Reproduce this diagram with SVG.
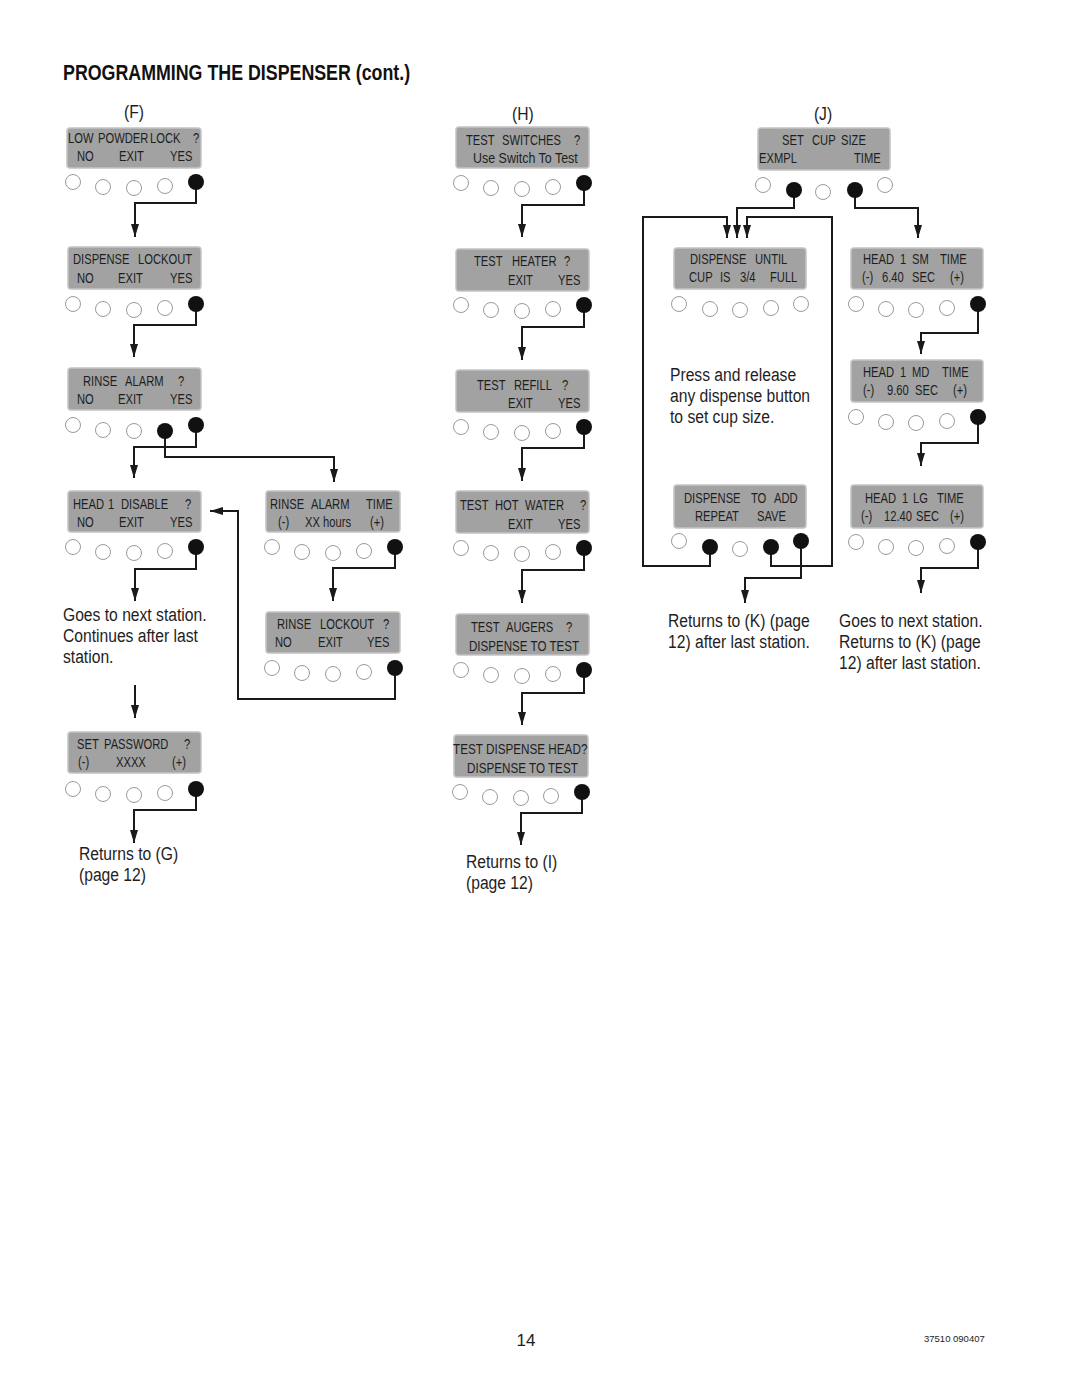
<svg xmlns="http://www.w3.org/2000/svg" width="1080" height="1397" viewBox="0 0 1080 1397">
<style>
.bg{fill:#fff}
.lcd{fill:#a2a2a2;stroke:#c4c4c4;stroke-width:1.5}
.lt{font-family:"Liberation Sans",Arial,sans-serif;font-size:14px;fill:#1e1e1e;transform:scale(0.8,1);transform-origin:0 0}
.bt{font-family:"Liberation Sans",Arial,sans-serif;font-size:18px;fill:#1e1e1e;transform:scale(0.87,1);transform-origin:0 0}
.ttl{font-family:"Liberation Sans",Arial,sans-serif;font-size:22px;font-weight:bold;fill:#111;transform:scale(0.81,1);transform-origin:0 0}
.ob{fill:#fff;stroke:#9a9a9a;stroke-width:1}
.fb{fill:#111}
.ca{fill:none;stroke:#1a1a1a;stroke-width:2;marker-end:url(#ah)}
</style>
<defs>
<marker id="ah" markerUnits="userSpaceOnUse" markerWidth="14" markerHeight="8" refX="13" refY="4" orient="auto">
<path d="M0,0 L13,4 L0,8 z" fill="#1a1a1a"/>
</marker>
</defs>
<rect class="bg" x="0" y="0" width="1080" height="1397"/>
<text class="ttl" x="77.8" y="80">PROGRAMMING THE DISPENSER (cont.)</text>
<text class="bt" x="154" y="118" text-anchor="middle">(F)</text>
<text class="bt" x="601.1" y="120" text-anchor="middle">(H)</text>
<text class="bt" x="946" y="120" text-anchor="middle">(J)</text>

<g id="connectors">
<polyline class="ca" points="196,182 196,203 135,203 135,237"/>
<polyline class="ca" points="196,304 196,325 134,325 134,357"/>
<polyline class="ca" points="196,425 196,447 134,447 134,478"/>
<polyline class="ca" points="165,431 165,457 334,457 334,482"/>
<polyline class="ca" points="196,547 196,569 135,569 135,601"/>
<polyline class="ca" points="395,547 395,568 333,568 333,601"/>
<polyline class="ca" points="395,668 395,699 238,699 238,511 210,511"/>
<polyline class="ca" points="135,685 135,718"/>
<polyline class="ca" points="196,789 196,810 134,810 134,843"/>

<polyline class="ca" points="584,183 584,205 522,205 522,237"/>
<polyline class="ca" points="584,305 584,327 522,327 522,360"/>
<polyline class="ca" points="584,427 584,448 522,448 522,481"/>
<polyline class="ca" points="584,548 584,570 522,570 522,603"/>
<polyline class="ca" points="584,670 584,693 522,693 522,725"/>
<polyline class="ca" points="582,792 582,813 521,813 521,845"/>

<polyline class="ca" points="794,190 794,208 737,208 737,238"/>
<polyline class="ca" points="855,190 855,208 918,208 918,238"/>
<polyline class="ca" points="710,547 710,566 643,566 643,217 727,217 727,238"/>
<polyline class="ca" points="771,547 771,566 832,566 832,217 747,217 747,238"/>
<polyline class="ca" points="801,541 801,578 745,578 745,603"/>
<polyline class="ca" points="978,304 978,333 921,333 921,354"/>
<polyline class="ca" points="978,417 978,443 921,443 921,466"/>
<polyline class="ca" points="978,542 978,568 921,568 921,593"/>
</g>

<!-- Column F -->
<g id="low-powder-lock">
<rect class="lcd" x="67" y="128" width="134" height="40" rx="3"/>
<text class="lt" y="143"><tspan x="85">LOW</tspan><tspan x="122.5">POWDER</tspan><tspan x="187.5">LOCK</tspan><tspan x="241.25">?</tspan></text>
<text class="lt" y="161"><tspan x="96.25">NO</tspan><tspan x="148.75">EXIT</tspan><tspan x="212.5">YES</tspan></text>
<circle class="ob" cx="73" cy="182" r="7.5"/><circle class="ob" cx="103" cy="187" r="7.5"/><circle class="ob" cx="134" cy="188" r="7.5"/><circle class="ob" cx="165" cy="186" r="7.5"/><circle class="fb" cx="196" cy="182" r="8"/>
</g>
<g id="dispense-lockout">
<rect class="lcd" x="68" y="247" width="133" height="42" rx="3"/>
<text class="lt" y="264"><tspan x="91.25">DISPENSE</tspan><tspan x="172.5">LOCKOUT</tspan></text>
<text class="lt" y="283"><tspan x="96.25">NO</tspan><tspan x="147.5">EXIT</tspan><tspan x="212.5">YES</tspan></text>
<circle class="ob" cx="73" cy="304" r="7.5"/><circle class="ob" cx="103" cy="309" r="7.5"/><circle class="ob" cx="134" cy="310" r="7.5"/><circle class="ob" cx="165" cy="308" r="7.5"/><circle class="fb" cx="196" cy="304" r="8"/>
</g>
<g id="rinse-alarm">
<rect class="lcd" x="68" y="368" width="133" height="42" rx="3"/>
<text class="lt" y="386"><tspan x="103.75">RINSE</tspan><tspan x="156.25">ALARM</tspan><tspan x="222.5">?</tspan></text>
<text class="lt" y="404"><tspan x="96.25">NO</tspan><tspan x="147.5">EXIT</tspan><tspan x="212.5">YES</tspan></text>
<circle class="ob" cx="73" cy="425" r="7.5"/><circle class="ob" cx="103" cy="430" r="7.5"/><circle class="ob" cx="134" cy="431" r="7.5"/><circle class="fb" cx="165" cy="431" r="8"/><circle class="fb" cx="196" cy="425" r="8"/>
</g>
<g id="head1-disable">
<rect class="lcd" x="68" y="491" width="133" height="41" rx="3"/>
<text class="lt" y="509"><tspan x="91.25">HEAD</tspan><tspan x="135">1</tspan><tspan x="151.25">DISABLE</tspan><tspan x="231.25">?</tspan></text>
<text class="lt" y="527"><tspan x="96.25">NO</tspan><tspan x="148.75">EXIT</tspan><tspan x="212.5">YES</tspan></text>
<circle class="ob" cx="73" cy="547" r="7.5"/><circle class="ob" cx="103" cy="552" r="7.5"/><circle class="ob" cx="134" cy="553" r="7.5"/><circle class="ob" cx="165" cy="551" r="7.5"/><circle class="fb" cx="196" cy="547" r="8"/>
</g>
<g id="rinse-alarm-time">
<rect class="lcd" x="266" y="491" width="134" height="41" rx="3"/>
<text class="lt" y="509"><tspan x="337.5">RINSE</tspan><tspan x="388.75">ALARM</tspan><tspan x="457.5">TIME</tspan></text>
<text class="lt" y="527"><tspan x="347.5">(-)</tspan><tspan x="381.25">XX hours</tspan><tspan x="462.5">(+)</tspan></text>
<circle class="ob" cx="272" cy="547" r="7.5"/><circle class="ob" cx="302" cy="552" r="7.5"/><circle class="ob" cx="333" cy="553" r="7.5"/><circle class="ob" cx="364" cy="551" r="7.5"/><circle class="fb" cx="395" cy="547" r="8"/>
</g>
<g id="rinse-lockout">
<rect class="lcd" x="266" y="612" width="134" height="41" rx="3"/>
<text class="lt" y="629"><tspan x="346.25">RINSE</tspan><tspan x="400">LOCKOUT</tspan><tspan x="478.75">?</tspan></text>
<text class="lt" y="647"><tspan x="343.75">NO</tspan><tspan x="397.5">EXIT</tspan><tspan x="458.75">YES</tspan></text>
<circle class="ob" cx="272" cy="668" r="7.5"/><circle class="ob" cx="302" cy="673" r="7.5"/><circle class="ob" cx="333" cy="674" r="7.5"/><circle class="ob" cx="364" cy="672" r="7.5"/><circle class="fb" cx="395" cy="668" r="8"/>
</g>
<g id="note-f1">
<text class="bt" x="72.4" y="621">Goes to next station.</text>
<text class="bt" x="72.4" y="642">Continues after last</text>
<text class="bt" x="72.4" y="663">station.</text>
</g>
<g id="set-password">
<rect class="lcd" x="68" y="732" width="133" height="41" rx="3"/>
<text class="lt" y="749"><tspan x="96.25">SET</tspan><tspan x="130">PASSWORD</tspan><tspan x="230">?</tspan></text>
<text class="lt" y="767"><tspan x="97.5">(-)</tspan><tspan x="145">XXXX</tspan><tspan x="215">(+)</tspan></text>
<circle class="ob" cx="73" cy="789" r="7.5"/><circle class="ob" cx="103" cy="794" r="7.5"/><circle class="ob" cx="134" cy="795" r="7.5"/><circle class="ob" cx="165" cy="793" r="7.5"/><circle class="fb" cx="196" cy="789" r="8"/>
</g>
<g id="note-f2">
<text class="bt" x="90.8" y="860">Returns to (G)</text>
<text class="bt" x="90.8" y="881">(page 12)</text>
</g>

<!-- Column H -->
<g id="test-switches">
<rect class="lcd" x="456" y="127" width="133" height="41" rx="3"/>
<text class="lt" y="145"><tspan x="582.5">TEST</tspan><tspan x="627.5">SWITCHES</tspan><tspan x="717.5">?</tspan></text>
<text class="lt" x="591.25" y="163" textLength="131" lengthAdjust="spacingAndGlyphs">Use Switch To Test</text>
<circle class="ob" cx="461" cy="183" r="7.5"/><circle class="ob" cx="491" cy="188" r="7.5"/><circle class="ob" cx="522" cy="189" r="7.5"/><circle class="ob" cx="553" cy="187" r="7.5"/><circle class="fb" cx="584" cy="183" r="8"/>
</g>
<g id="test-heater">
<rect class="lcd" x="456" y="249" width="133" height="42" rx="3"/>
<text class="lt" y="266"><tspan x="592.5">TEST</tspan><tspan x="640">HEATER</tspan><tspan x="705">?</tspan></text>
<text class="lt" y="285"><tspan x="635">EXIT</tspan><tspan x="697.5">YES</tspan></text>
<circle class="ob" cx="461" cy="305" r="7.5"/><circle class="ob" cx="491" cy="310" r="7.5"/><circle class="ob" cx="522" cy="311" r="7.5"/><circle class="ob" cx="553" cy="309" r="7.5"/><circle class="fb" cx="584" cy="305" r="8"/>
</g>
<g id="test-refill">
<rect class="lcd" x="456" y="370" width="133" height="42" rx="3"/>
<text class="lt" y="390"><tspan x="596.25">TEST</tspan><tspan x="642.5">REFILL</tspan><tspan x="702.5">?</tspan></text>
<text class="lt" y="408"><tspan x="635">EXIT</tspan><tspan x="697.5">YES</tspan></text>
<circle class="ob" cx="461" cy="427" r="7.5"/><circle class="ob" cx="491" cy="432" r="7.5"/><circle class="ob" cx="522" cy="433" r="7.5"/><circle class="ob" cx="553" cy="431" r="7.5"/><circle class="fb" cx="584" cy="427" r="8"/>
</g>
<g id="test-hot-water">
<rect class="lcd" x="456" y="491" width="133" height="42" rx="3"/>
<text class="lt" y="510"><tspan x="575">TEST</tspan><tspan x="618.75">HOT</tspan><tspan x="656.25">WATER</tspan><tspan x="725">?</tspan></text>
<text class="lt" y="529"><tspan x="635">EXIT</tspan><tspan x="697.5">YES</tspan></text>
<circle class="ob" cx="461" cy="548" r="7.5"/><circle class="ob" cx="491" cy="553" r="7.5"/><circle class="ob" cx="522" cy="554" r="7.5"/><circle class="ob" cx="553" cy="552" r="7.5"/><circle class="fb" cx="584" cy="548" r="8"/>
</g>
<g id="test-augers">
<rect class="lcd" x="456" y="614" width="133" height="41" rx="3"/>
<text class="lt" y="632"><tspan x="588.75">TEST</tspan><tspan x="632.5">AUGERS</tspan><tspan x="707.5">?</tspan></text>
<text class="lt" x="586.25" y="651" textLength="137.5" lengthAdjust="spacingAndGlyphs">DISPENSE TO TEST</text>
<circle class="ob" cx="461" cy="670" r="7.5"/><circle class="ob" cx="491" cy="675" r="7.5"/><circle class="ob" cx="522" cy="676" r="7.5"/><circle class="ob" cx="553" cy="674" r="7.5"/><circle class="fb" cx="584" cy="670" r="8"/>
</g>
<g id="test-dispense-head">
<rect class="lcd" x="454" y="735" width="134" height="42" rx="3"/>
<text class="lt" x="566.25" y="754" textLength="168" lengthAdjust="spacingAndGlyphs">TEST DISPENSE HEAD?</text>
<text class="lt" x="583.75" y="773" textLength="138.5" lengthAdjust="spacingAndGlyphs">DISPENSE TO TEST</text>
<circle class="ob" cx="460" cy="792" r="7.5"/><circle class="ob" cx="490" cy="797" r="7.5"/><circle class="ob" cx="521" cy="798" r="7.5"/><circle class="ob" cx="551" cy="796" r="7.5"/><circle class="fb" cx="582" cy="792" r="8"/>
</g>
<g id="note-h">
<text class="bt" x="535.6" y="868">Returns to (I)</text>
<text class="bt" x="535.6" y="889">(page 12)</text>
</g>

<!-- Column J -->
<g id="set-cup-size">
<rect class="lcd" x="758" y="128" width="132" height="42" rx="3"/>
<text class="lt" y="145"><tspan x="977.5">SET</tspan><tspan x="1015">CUP</tspan><tspan x="1051.25">SIZE</tspan></text>
<text class="lt" y="163"><tspan x="948.75">EXMPL</tspan><tspan x="1067.5">TIME</tspan></text>
<circle class="ob" cx="763" cy="185" r="7.5"/><circle class="fb" cx="794" cy="190" r="8"/><circle class="ob" cx="823" cy="192" r="7.5"/><circle class="fb" cx="855" cy="190" r="8"/><circle class="ob" cx="885" cy="185" r="7.5"/>
</g>
<g id="dispense-until">
<rect class="lcd" x="674" y="248" width="132" height="41" rx="3"/>
<text class="lt" y="264"><tspan x="862.5">DISPENSE</tspan><tspan x="943.75">UNTIL</tspan></text>
<text class="lt" y="282"><tspan x="861.25">CUP</tspan><tspan x="900">IS</tspan><tspan x="925">3/4</tspan><tspan x="962.5">FULL</tspan></text>
<circle class="ob" cx="679" cy="304" r="7.5"/><circle class="ob" cx="710" cy="309" r="7.5"/><circle class="ob" cx="740" cy="310" r="7.5"/><circle class="ob" cx="771" cy="308" r="7.5"/><circle class="ob" cx="801" cy="304" r="7.5"/>
</g>
<g id="note-j1">
<text class="bt" x="770.1" y="381">Press and release</text>
<text class="bt" x="770.1" y="402">any dispense button</text>
<text class="bt" x="770.1" y="423">to set cup size.</text>
</g>
<g id="dispense-to-add">
<rect class="lcd" x="674" y="485" width="132" height="43" rx="3"/>
<text class="lt" y="503"><tspan x="855">DISPENSE</tspan><tspan x="938.75">TO</tspan><tspan x="967.5">ADD</tspan></text>
<text class="lt" y="521"><tspan x="868.75">REPEAT</tspan><tspan x="946.25">SAVE</tspan></text>
<circle class="ob" cx="679" cy="541" r="7.5"/><circle class="fb" cx="710" cy="547" r="8"/><circle class="ob" cx="740" cy="549" r="7.5"/><circle class="fb" cx="771" cy="547" r="8"/><circle class="fb" cx="801" cy="541" r="8"/>
</g>
<g id="note-j2">
<text class="bt" x="767.8" y="627">Returns to (K) (page</text>
<text class="bt" x="767.8" y="648">12) after last station.</text>
</g>
<g id="head1-sm-time">
<rect class="lcd" x="851" y="248" width="132" height="41" rx="3"/>
<text class="lt" y="264"><tspan x="1078.75">HEAD</tspan><tspan x="1125">1</tspan><tspan x="1140">SM</tspan><tspan x="1175">TIME</tspan></text>
<text class="lt" y="282"><tspan x="1077.5">(-)</tspan><tspan x="1102.5">6.40</tspan><tspan x="1140">SEC</tspan><tspan x="1187.5">(+)</tspan></text>
<circle class="ob" cx="856" cy="304" r="7.5"/><circle class="ob" cx="886" cy="309" r="7.5"/><circle class="ob" cx="916" cy="310" r="7.5"/><circle class="ob" cx="947" cy="308" r="7.5"/><circle class="fb" cx="978" cy="304" r="8"/>
</g>
<g id="head1-md-time">
<rect class="lcd" x="851" y="360" width="132" height="42" rx="3"/>
<text class="lt" y="377"><tspan x="1078.75">HEAD</tspan><tspan x="1125">1</tspan><tspan x="1140">MD</tspan><tspan x="1177.5">TIME</tspan></text>
<text class="lt" y="395"><tspan x="1078.75">(-)</tspan><tspan x="1108.75">9.60</tspan><tspan x="1143.75">SEC</tspan><tspan x="1191.25">(+)</tspan></text>
<circle class="ob" cx="856" cy="417" r="7.5"/><circle class="ob" cx="886" cy="422" r="7.5"/><circle class="ob" cx="916" cy="423" r="7.5"/><circle class="ob" cx="947" cy="421" r="7.5"/><circle class="fb" cx="978" cy="417" r="8"/>
</g>
<g id="head1-lg-time">
<rect class="lcd" x="851" y="485" width="132" height="43" rx="3"/>
<text class="lt" y="503"><tspan x="1081.25">HEAD</tspan><tspan x="1127.5">1</tspan><tspan x="1141.25">LG</tspan><tspan x="1171.25">TIME</tspan></text>
<text class="lt" y="521"><tspan x="1076.25">(-)</tspan><tspan x="1105">12.40</tspan><tspan x="1145">SEC</tspan><tspan x="1187.5">(+)</tspan></text>
<circle class="ob" cx="856" cy="542" r="7.5"/><circle class="ob" cx="886" cy="547" r="7.5"/><circle class="ob" cx="916" cy="548" r="7.5"/><circle class="ob" cx="947" cy="546" r="7.5"/><circle class="fb" cx="978" cy="542" r="8"/>
</g>
<g id="note-j3">
<text class="bt" x="964.4" y="627">Goes to next station.</text>
<text class="bt" x="964.4" y="648">Returns to (K) (page</text>
<text class="bt" x="964.4" y="669">12) after last station.</text>
</g>

<text x="526" y="1346" text-anchor="middle" style="font-family:'Liberation Sans',Arial,sans-serif;font-size:17px;fill:#1e1e1e">14</text>
<text x="924" y="1342" style="font-family:'Liberation Sans',Arial,sans-serif;font-size:9.5px;fill:#1e1e1e">37510 090407</text>
</svg>
